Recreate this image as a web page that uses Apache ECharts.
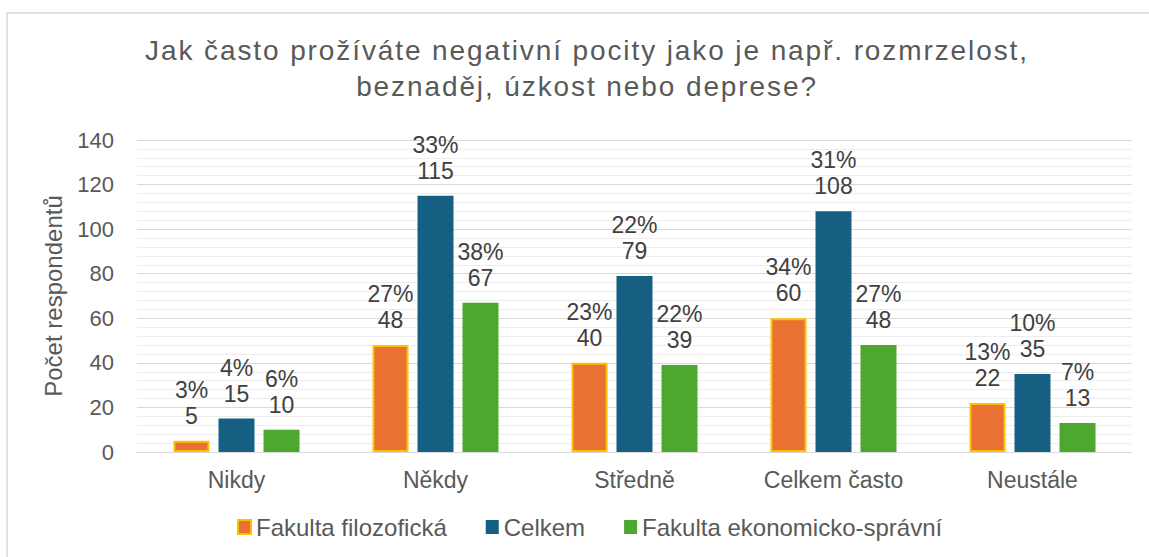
<!DOCTYPE html>
<html>
<head>
<meta charset="utf-8">
<script src="https://cdn.jsdelivr.net/npm/echarts@6/dist/echarts.min.js"></script>
<style>
  html, body { margin: 0; padding: 0; background: #fff; }
  #chart { width: 1149px; height: 557px; }
</style>
</head>
<body>
<div id="chart"></div>
<script>
const titleLines = ["Jak často prožíváte negativní pocity jako je např. rozmrzelost,", "beznaděj, úzkost nebo deprese?"];
const categories = ["Nikdy", "Někdy", "Středně", "Celkem často", "Neustále"];
const seriesNames = ["Fakulta filozofická", "Celkem", "Fakulta ekonomicko-správní"];
const ffValues = [5, 48, 40, 60, 22];
const ffPercent = ["3%", "27%", "23%", "34%", "13%"];
const totalValues = [15, 115, 79, 108, 35];
const totalPercent = ["4%", "33%", "22%", "31%", "10%"];
const fesValues = [10, 67, 39, 48, 13];
const fesPercent = ["6%", "38%", "22%", "27%", "7%"];
const yTicks = [0, 20, 40, 60, 80, 100, 120, 140];

const font = "Liberation Sans, Arial, sans-serif";
const textColor = "#595959";

// svg renderer so the title can get a bit of letter spacing like in the original
const chart = echarts.init(document.getElementById("chart"), null, { renderer: "svg" });

function barSeries(name, values, pct, color, border) {
  return {
    name: name,
    type: "bar",
    barWidth: 36,
    barGap: "25%",
    data: values,
    itemStyle: {
      color: color,
      borderColor: border || color,
      borderWidth: border ? 2 : 0
    },
    label: {
      show: true,
      position: "top",
      distance: 12,
      fontFamily: font,
      fontSize: 23,
      lineHeight: 26,
      color: "#404040",
      formatter: p => pct[p.dataIndex] + "\n" + p.value
    }
  };
}

const option = {
  animation: false,
  textStyle: { fontFamily: font },
  graphic: [{
    type: "rect",
    shape: { x: 7, y: 13, width: 1160, height: 560 },
    style: { fill: null, stroke: "#d9d9d9", lineWidth: 1.5 },
    silent: true
  }],
  title: {
    text: titleLines.join("\n"),
    left: 582,
    textAlign: "center",
    top: 27,
    textStyle: {
      fontFamily: font,
      fontSize: 28,
      lineHeight: 36,
      fontWeight: "normal",
      color: textColor
    }
  },
  legend: {
    top: 510,
    left: 232,
    itemWidth: 13,
    itemHeight: 14,
    itemGap: 39,
    icon: "rect",
    textStyle: { fontFamily: font, fontSize: 24, color: textColor },
    data: seriesNames
  },
  grid: {
    left: 137,
    right: 17,
    top: 140,
    bottom: 105,
    containLabel: false
  },
  xAxis: {
    type: "category",
    data: categories,
    axisLine: { lineStyle: { color: "#d9d9d9", width: 1 } },
    axisTick: { show: false },
    axisLabel: {
      fontFamily: font,
      fontSize: 23,
      color: textColor,
      margin: 16
    }
  },
  yAxis: {
    type: "value",
    min: yTicks[0],
    max: yTicks[yTicks.length - 1],
    interval: 20,
    name: "Počet respondentů",
    nameLocation: "middle",
    nameGap: 72,
    nameRotate: 90,
    nameTextStyle: { fontFamily: font, fontSize: 24, color: textColor },
    axisLine: { show: false },
    axisTick: { show: false },
    axisLabel: {
      fontFamily: font,
      fontSize: 22,
      color: textColor,
      margin: 23
    },
    splitLine: { lineStyle: { color: "#d9d9d9", width: 1 } },
    minorTick: { show: false, splitNumber: 5 },
    minorSplitLine: { show: true, lineStyle: { color: "#ededed", width: 1 } }
  },
  series: [
    barSeries(seriesNames[0], ffValues, ffPercent, "#E97132", "#FFC000"),
    barSeries(seriesNames[1], totalValues, totalPercent, "#156082"),
    barSeries(seriesNames[2], fesValues, fesPercent, "#4EA72E")
  ]
};

function spaceTitle() {
  document.querySelectorAll("#chart svg text").forEach(t => {
    if (titleLines.indexOf(t.textContent) >= 0) {
      t.style.letterSpacing = "1.9px";
    }
  });
}

chart.on("finished", spaceTitle);
chart.setOption(option);
spaceTitle();
window.addEventListener("resize", () => chart.resize());
</script>
</body>
</html>
